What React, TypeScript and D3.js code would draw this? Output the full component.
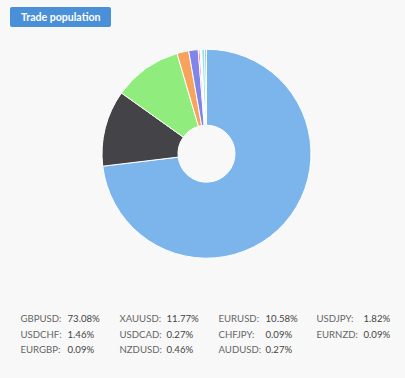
import React from "react";
import * as d3 from "d3";

const symbols = ["GBPUSD", "XAUUSD", "EURUSD", "USDJPY", "USDCHF", "USDCAD", "CHFJPY", "EURNZD", "EURGBP", "NZDUSD", "AUDUSD"];
const shares = [73.08, 11.77, 10.58, 1.82, 1.46, 0.27, 0.09, 0.09, 0.09, 0.46, 0.27];
const colors = ["#7cb5ec", "#434348", "#90ed7d", "#f7a35c", "#8085e9", "#f15c80", "#e4d354", "#2b908f", "#f45b5b", "#91e8e1", "#7cb5ec"];

const W = 405, H = 378;
const cx = 206.5, cy = 153.7, rOuter = 104.5, rInner = 28.5;

export default function App() {
  const pie = d3.pie<number>().sort(null).value((d) => d)(shares);
  const arc = d3.arc<d3.PieArcDatum<number>>().innerRadius(rInner).outerRadius(rOuter);
  const colX = [20.5, 119.5, 218.5, 316.5];
  const valX = [67.5, 166.5, 265.5, 363.5];
  const rowY = [322.3, 337.6, 353];
  return (
    <div style={{ position: "fixed", left: 0, top: 0, width: W, height: H }}>
      <svg width={W} height={H} style={{ display: "block", fontFamily: "Lato, 'Noto Sans', sans-serif" }}>
        <rect x={0} y={0} width={W} height={H} fill="#f8f8f8" />
        <rect x={10} y={7} width={101} height={20} rx={2} fill="#4a90d9" />
        <text x={21} y={20.5} fill="#fff" fontSize={11} fontWeight={700} textLength={79.5} lengthAdjust="spacingAndGlyphs">Trade population</text>
        <g transform={`translate(${cx},${cy})`}>
          {pie.map((p, i) => (
            <path key={symbols[i]} d={arc(p) || ""} fill={colors[i]} stroke="#ffffff" strokeWidth={1} strokeLinejoin="round" />
          ))}
        </g>
        {symbols.map((s, i) => {
          const c = i % 4, r = Math.floor(i / 4);
          return (
            <g key={s} fontSize={9.6}>
              <text x={colX[c]} y={rowY[r]} fill="#666">{s}:</text>
              <text x={valX[c]} y={rowY[r]} fill="#444">{shares[i].toFixed(2)}%</text>
            </g>
          );
        })}
      </svg>
    </div>
  );
}
